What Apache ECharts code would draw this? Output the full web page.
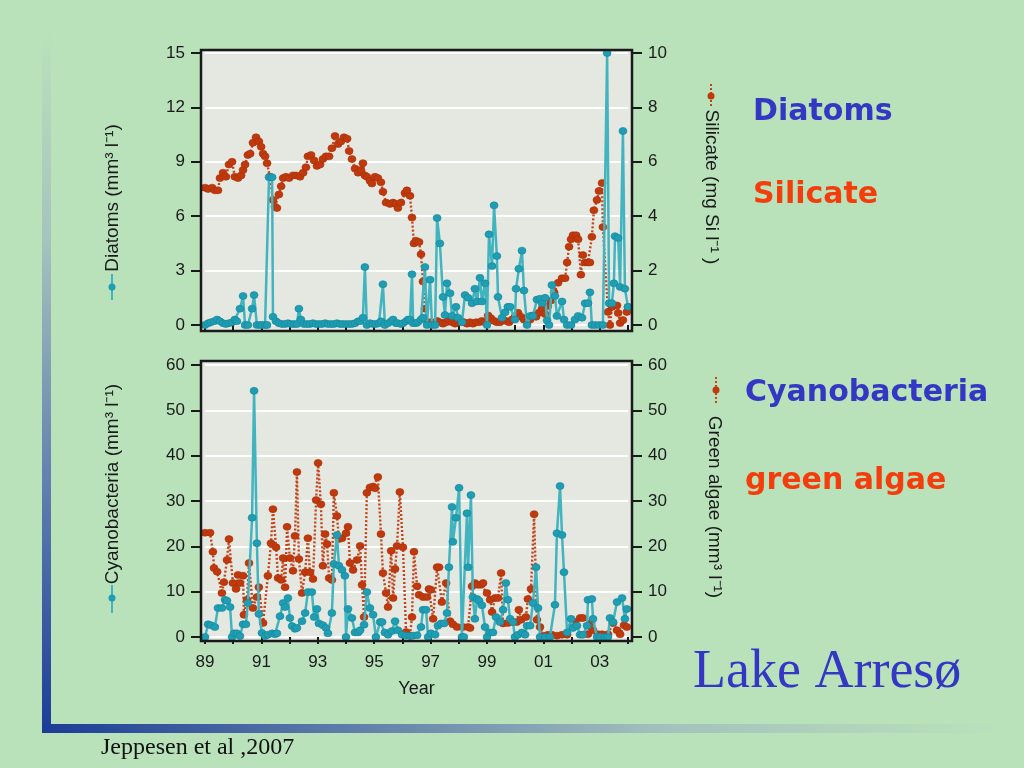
<!DOCTYPE html>
<html><head><meta charset="utf-8">
<script src="https://cdn.jsdelivr.net/npm/echarts@6/dist/echarts.min.js"></script>
<style>html,body{margin:0;padding:0;background:#b9e2bb;}#c{width:1024px;height:768px;}</style>
</head><body><div id="c"></div><script>
// ---- data (decimal year, value) ----
const siYear=[1989.00,1989.11,1989.25,1989.35,1989.46,1989.53,1989.64,1989.74,1989.85,1989.96,1990.06,1990.17,1990.28,1990.35,1990.42,1990.52,1990.60,1990.70,1990.81,1990.91,1990.99,1991.06,1991.13,1991.20,1991.30,1991.41,1991.48,1991.55,1991.62,1991.70,1991.77,1991.87,1991.98,1992.12,1992.23,1992.37,1992.48,1992.58,1992.65,1992.76,1992.87,1992.97,1993.08,1993.18,1993.29,1993.40,1993.50,1993.61,1993.72,1993.82,1993.93,1994.04,1994.11,1994.21,1994.32,1994.43,1994.53,1994.60,1994.67,1994.74,1994.85,1994.92,1995.03,1995.13,1995.24,1995.31,1995.42,1995.56,1995.67,1995.77,1995.84,1995.95,1996.09,1996.16,1996.27,1996.34,1996.41,1996.48,1996.59,1996.66,1996.73,1996.80,1996.91,
1997.01,1997.12,1997.23,1997.33,1997.44,1997.55,1997.65,1997.76,1997.87,1997.97,1998.08,1998.18,1998.29,1998.40,1998.50,1998.61,1998.72,1998.82,1998.93,1999.04,1999.14,1999.25,1999.35,1999.46,1999.57,1999.67,1999.78,1999.89,1999.99,2000.10,2000.21,2000.31,2000.42,2000.53,2000.63,2000.74,2000.84,2000.95,2001.06,2001.16,2001.27,2001.38,2001.52,2001.66,2001.77,2001.84,2001.91,2001.98,2002.05,2002.16,2002.23,2002.33,2002.40,2002.48,2002.58,2002.65,2002.72,2002.79,2002.90,2002.97,2003.08,2003.11,2003.29,2003.36,2003.43,2003.61,2003.65,2003.72,2003.82,2003.96,2004.00];
const siVal=[5.05,5.0,5.05,4.95,4.95,5.4,5.6,5.45,5.9,6.0,5.45,5.4,5.5,5.7,5.9,6.25,6.3,6.7,6.9,6.75,6.55,6.3,6.2,5.95,5.45,4.6,4.35,4.3,4.8,5.1,5.4,5.45,5.4,5.5,5.5,5.45,5.6,5.8,6.2,6.25,6.05,5.85,5.9,6.1,6.2,6.2,6.5,6.95,6.65,6.75,6.9,6.85,6.4,6.1,5.75,5.6,5.7,5.95,5.5,5.45,5.3,5.2,5.45,5.4,5.25,4.9,4.5,4.45,4.5,4.45,4.3,4.5,4.85,4.95,4.75,3.95,3.0,3.1,3.05,2.6,1.6,0.6,0.1,
0.1,0.05,0.15,0.1,0.05,0.1,0.2,0.1,0.05,0.1,0.15,0.1,0.05,0.1,0.05,0.1,0.1,0.15,0.1,0.35,0.25,0.15,0.1,0.1,0.2,0.15,0.1,0.2,0.3,0.45,0.3,0.2,0.1,0.2,0.35,0.3,0.45,0.6,0.4,0.7,0.9,1.2,1.55,1.72,1.72,2.3,2.88,3.15,3.3,3.3,3.15,1.85,2.57,2.3,2.3,2.3,3.24,4.22,4.6,4.93,5.22,3.6,0.48,0.0,0.66,0.72,0.44,0.07,0.18,0.48,0.66];

const diYear=[1989.00,1989.11,1989.21,1989.32,1989.43,1989.53,1989.64,1989.74,1989.85,1989.96,1990.06,1990.13,1990.24,1990.35,1990.42,1990.52,1990.67,1990.74,1990.84,1990.95,1991.02,1991.13,1991.20,1991.27,1991.38,1991.41,1991.52,1991.62,1991.73,1991.84,1991.94,1992.05,1992.16,1992.26,1992.33,1992.40,1992.51,1992.62,1992.72,1992.83,1992.94,1993.04,1993.15,1993.26,1993.36,1993.47,1993.57,1993.68,1993.79,1993.89,1994.00,1994.11,1994.21,1994.32,1994.43,1994.50,1994.60,1994.67,1994.74,1994.85,1994.96,1995.06,1995.17,1995.24,1995.31,1995.38,1995.49,1995.60,1995.67,1995.77,1995.84,1995.95,1996.02,1996.13,1996.20,1996.27,1996.34,1996.38,1996.48,1996.55,1996.66,1996.73,1996.80,1996.87,1996.98,1997.05,1997.16,1997.23,1997.33,1997.44,1997.51,1997.58,1997.69,1997.76,1997.90,1997.97,1998.11,1998.22,1998.33,1998.47,1998.57,1998.65,1998.75,1998.82,1998.93,1999.00,1999.07,1999.18,1999.25,1999.35,1999.39,1999.53,1999.64,1999.74,1999.82,1999.99,2000.03,2000.13,2000.24,2000.31,2000.42,2000.53,2000.63,2000.77,2000.88,2000.95,2001.06,2001.13,2001.20,2001.30,2001.41,2001.48,2001.66,2001.73,2001.84,2001.98,2002.12,2002.23,2002.37,2002.48,2002.58,2002.65,2002.72,2002.83,2002.97,2003.11,2003.26,2003.33,2003.43,2003.50,2003.54,2003.65,2003.72,2003.82,2003.89,2004.00];
const diVal=[0.0,0.1,0.15,0.2,0.3,0.2,0.1,0.05,0.1,0.15,0.3,0.2,0.9,1.6,0.0,0.0,0.9,1.65,0.0,0.0,0.0,0.0,0.0,8.15,8.15,0.45,0.2,0.1,0.05,0.05,0.1,0.05,0.05,0.05,0.9,0.3,0.05,0.05,0.05,0.1,0.05,0.05,0.05,0.1,0.05,0.05,0.05,0.1,0.05,0.05,0.05,0.05,0.05,0.1,0.2,0.2,0.4,3.2,0.0,0.1,0.05,0.05,0.1,0.2,2.25,0.0,0.1,0.2,0.3,0.1,0.1,0.05,0.1,0.2,0.3,0.3,2.8,0.1,0.1,0.15,0.3,0.4,3.2,0.0,2.5,0.0,0.0,5.9,4.5,1.55,0.55,2.3,1.75,0.5,1.0,0.4,0.15,1.65,1.5,1.2,2.0,1.3,2.6,1.3,2.3,0.0,5.0,3.25,6.6,3.8,1.55,0.4,0.7,1.0,1.0,0.3,2.0,3.1,4.1,1.9,0.0,0.5,0.5,1.4,1.45,1.2,1.5,0.25,0.0,2.2,1.6,0.5,1.3,0.3,0.0,0.0,0.3,0.5,0.4,1.2,1.2,1.8,0.0,0.0,0.0,0.0,15.0,1.2,1.2,2.3,4.9,4.8,2.1,10.7,2.0,1.0];

const gaYear=[1989.00,1989.18,1989.28,1989.32,1989.43,1989.60,1989.67,1989.78,1989.85,1989.99,1990.10,1990.17,1990.24,1990.35,1990.38,1990.49,1990.56,1990.70,1990.84,1990.91,1991.06,1991.23,1991.34,1991.41,1991.52,1991.59,1991.70,1991.77,1991.84,1991.91,1992.01,1992.12,1992.19,1992.26,1992.33,1992.44,1992.55,1992.65,1992.72,1992.83,1992.94,1993.01,1993.11,1993.18,1993.26,1993.33,1993.40,1993.50,1993.57,1993.68,1993.75,1993.86,1994.00,1994.07,1994.14,1994.25,1994.39,1994.50,1994.57,1994.64,1994.74,1994.85,1994.96,1995.03,1995.13,1995.24,1995.31,1995.42,1995.49,1995.60,1995.67,1995.74,1995.81,1995.91,1996.02,1996.13,1996.27,1996.34,1996.41,1996.52,1996.59,1996.73,1996.87,1996.94,1997.01,1997.09,1997.23,1997.30,1997.40,1997.55,1997.69,1997.79,1997.94,1998.15,1998.33,1998.40,1998.47,1998.57,1998.68,1998.79,1998.86,1999.00,1999.11,1999.18,1999.28,1999.39,1999.50,1999.57,1999.74,1999.92,2000.06,2000.13,2000.21,2000.38,2000.45,2000.56,2000.67,2000.77,2000.88,2000.99,2001.16,2001.30,2001.48,2001.66,2001.84,2002.01,2002.12,2002.30,2002.40,2002.58,2002.69,2002.76,2002.94,2003.08,2003.29,2003.47,2003.61,2003.72,2003.86,2003.96];
const gaVal=[23.0,23.0,18.8,15.2,14.4,9.7,12.1,17.0,21.6,11.9,10.6,13.7,11.9,13.5,4.9,8.2,16.3,6.4,8.8,11.0,3.1,13.5,20.7,28.2,19.8,13.0,12.6,17.4,11.0,24.3,17.4,14.6,22.3,36.4,17.2,9.7,14.3,21.8,14.3,12.8,30.2,38.4,29.3,15.7,22.7,20.5,13.0,12.6,31.8,26.7,21.6,21.8,22.9,24.3,16.3,14.8,17.0,20.1,11.5,4.4,31.8,33.0,33.2,32.8,35.3,22.7,14.1,9.7,6.6,19.0,8.6,15.0,20.1,32.0,19.8,1.1,0.3,4.4,18.8,11.2,9.3,8.8,8.8,10.6,10.4,4.0,15.4,15.4,7.7,11.9,3.5,2.8,2.2,2.2,2.2,2.0,11.2,11.9,11.5,11.5,11.9,9.7,8.2,5.5,8.6,8.6,14.1,3.0,3.1,3.3,3.3,6.0,3.8,4.4,8.4,10.6,27.1,3.8,2.2,0.3,0.5,0.5,0.3,0.5,0.5,2.2,3.3,4.2,4.2,0.6,3.1,1.5,0.6,0.6,0.6,3.1,1.5,0.6,2.6,2.2];

const cyYear=[1989.00,1989.11,1989.21,1989.35,1989.46,1989.60,1989.71,1989.78,1989.89,1989.96,1990.03,1990.13,1990.24,1990.35,1990.45,1990.52,1990.67,1990.74,1990.84,1990.91,1991.02,1991.13,1991.23,1991.38,1991.48,1991.55,1991.66,1991.77,1991.84,1991.94,1992.01,1992.09,1992.19,1992.26,1992.44,1992.55,1992.65,1992.79,1992.87,1992.97,1993.04,1993.18,1993.29,1993.36,1993.50,1993.57,1993.68,1993.75,1993.86,1993.96,1994.00,1994.07,1994.21,1994.32,1994.43,1994.50,1994.64,1994.74,1994.85,1994.96,1995.06,1995.21,1995.28,1995.38,1995.49,1995.63,1995.74,1995.84,1995.99,1996.13,1996.27,1996.38,1996.52,1996.66,1996.73,1996.84,1996.91,1997.01,1997.16,1997.26,1997.37,1997.48,1997.58,1997.65,1997.76,1997.79,1997.90,1998.01,1998.11,1998.18,1998.29,1998.33,1998.43,1998.50,1998.57,1998.65,1998.72,1998.82,1998.93,1999.00,1999.11,1999.21,1999.32,1999.46,1999.57,1999.67,1999.74,1999.82,1999.92,1999.99,2000.10,2000.24,2000.35,2000.42,2000.53,2000.63,2000.74,2000.81,2000.88,2001.06,2001.23,2001.41,2001.48,2001.59,2001.66,2001.73,2001.84,2001.98,2002.05,2002.19,2002.30,2002.40,2002.55,2002.58,2002.72,2002.76,2002.90,2003.01,2003.18,2003.29,2003.36,2003.47,2003.61,2003.79,2003.89,2003.96];
const cyVal=[0.0,2.8,2.6,2.2,6.4,6.4,8.2,8.0,6.6,0.0,0.8,0.8,0.2,2.8,2.8,7.5,26.3,54.3,20.7,5.1,0.9,0.2,0.5,0.8,0.6,0.8,4.6,7.5,6.6,8.6,4.2,2.4,1.8,2.0,3.5,5.3,9.9,9.9,4.4,6.2,3.0,2.6,2.0,0.8,5.3,16.1,22.5,15.7,14.8,13.5,0.0,6.2,4.2,1.0,1.0,1.5,2.7,9.9,6.4,4.9,0.0,3.3,3.3,1.0,0.5,1.3,3.5,1.5,0.5,0.3,0.2,0.3,0.4,2.2,6.0,6.0,0.0,0.8,0.5,2.5,3.0,3.0,5.3,15.4,28.7,21.0,26.3,32.9,0.0,0.0,27.3,15.4,31.3,8.8,4.0,8.4,8.0,7.0,2.2,0.0,1.0,1.0,4.4,3.3,6.0,11.9,8.2,4.0,3.3,0.0,0.5,1.0,0.5,2.5,2.5,7.5,15.4,6.4,0.0,0.0,0.0,7.1,22.9,33.3,22.5,14.3,1.0,4.0,2.0,2.5,0.5,0.5,2.5,8.2,8.4,4.0,0.0,0.0,0.0,0.0,4.2,3.3,7.7,8.6,4.0,6.2];

// axis ranges / tick steps
const yearRange=[1989,2004];
const diatomAxis=[0,15,3], silicateAxis=[0,10,2], cyanoAxis=[0,60,10], greenAxis=[0,60,10];

const zip=(xs,ys)=>xs.slice(0,Math.min(xs.length,ys.length)).map((x,i)=>[x,ys[i]]);

const BG='#b9e2bb', PLOT='#e5e8e1', INK='#1a1a1a';
const TEAL_LINE='#42b4bf', TEAL_DOT='#1f9db2', RED_LINE='#c4431b', RED_DOT='#c0390d';
const BLUE_TXT='#3436c4', RED_TXT='#f53d0c';
const SANS='"Liberation Sans", Arial, sans-serif';

const chart=echarts.init(document.getElementById('c'),null,{renderer:'canvas'});

function xAx(grid,offset,labels){
  return {type:'value',gridIndex:grid,min:yearRange[0],max:yearRange[1],interval:1,offset:offset,
    axisLine:{show:false},splitLine:{show:false},
    axisTick:{show:true,inside:false,length:7,lineStyle:{color:INK,width:2}},
    axisLabel:{show:labels,margin:13,fontSize:17,color:INK,fontFamily:SANS,
      formatter:v=>(v%2===1)?String(v).slice(2):''},
    name:labels?'Year':'',nameLocation:'middle',nameGap:39,
    nameTextStyle:{fontSize:18,color:INK,fontFamily:SANS}};
}
function yAx(grid,pos,r,split){
  return {type:'value',gridIndex:grid,position:pos,min:r[0],max:r[1],interval:r[2],offset:4,
    axisLine:{show:false},
    axisTick:{show:true,inside:false,length:10,lineStyle:{color:INK,width:2}},
    axisLabel:{margin:16,fontSize:17,color:INK,fontFamily:SANS},
    splitLine:{show:split,lineStyle:{color:'#ffffff',width:2}}};
}
function lineSeries(name,xi,yi,data,dotted){
  return {type:'line',name:name,xAxisIndex:xi,yAxisIndex:yi,data:data,clip:false,
    symbol:'circle',symbolSize:[8,7],showSymbol:true,animation:false,emphasis:{disabled:true},
    z:dotted?2:3,
    lineStyle:dotted?{color:RED_LINE,width:2.4,type:[2,2]}:{color:TEAL_LINE,width:2.5},
    itemStyle:dotted?{color:RED_DOT,borderColor:'#a8300a',borderWidth:0.6}:{color:TEAL_DOT,borderColor:'#14879b',borderWidth:0.6}};
}

const frames=[[201,50,431,281],[201,361,431,280]];
const graphics=[];
frames.forEach(f=>{
  graphics.push({type:'rect',z:-10,silent:true,shape:{x:f[0],y:f[1],width:f[2],height:f[3]},style:{fill:PLOT}});
  graphics.push({type:'rect',z:100,silent:true,shape:{x:f[0],y:f[1],width:f[2],height:f[3]},style:{fill:null,stroke:INK,lineWidth:2.5}});
});
// decorative slide bars
graphics.push({type:'rect',silent:true,z:-20,shape:{x:42,y:30,width:9,height:703},
  style:{fill:new echarts.graphic.LinearGradient(0,0,0,1,[{offset:0,color:BG},{offset:0.3,color:'#a6c3bd'},{offset:0.65,color:'#5f7fae'},{offset:1,color:'#1b3c96'}])}});
graphics.push({type:'rect',silent:true,z:-20,shape:{x:42,y:724,width:960,height:9},
  style:{fill:new echarts.graphic.LinearGradient(0,0,1,0,[{offset:0,color:'#1b3c96'},{offset:0.3,color:'#5a7aa8'},{offset:0.65,color:'#a3c2bd'},{offset:1,color:BG}])}});
// axis titles
function title(txt,x,y,rot){graphics.push({type:'text',x:x,y:y,rotation:rot,silent:true,z:50,
  style:{text:txt,font:'19px '+SANS,fill:INK,align:'center',verticalAlign:'middle'}});}
title('Diatoms (mm³ l⁻¹)',113,198,Math.PI/2);
title('Cyanobacteria (mm³ l⁻¹)',113,484,Math.PI/2);
title('Silicate (mg Si l⁻¹ )',711,187,-Math.PI/2);
title('Green algae (mm³ l⁻¹)',714,507,-Math.PI/2);
// legend keys beside titles
function key(x,y0,y1,cy,teal){
  graphics.push({type:'line',silent:true,z:50,shape:{x1:x,y1:y0,x2:x,y2:y1},
    style:teal?{stroke:TEAL_LINE,lineWidth:2}:{stroke:RED_LINE,lineWidth:2,lineDash:[2,2]}});
  graphics.push({type:'circle',silent:true,z:51,shape:{cx:x,cy:cy,r:3.5},style:{fill:teal?TEAL_DOT:RED_DOT}});
}
key(112,274,300,287,true);
key(112,585,613,598,true);
key(711,84,108,96,false);
key(716,377,403,390,false);
// slide texts
function txt(t,x,y,font,color){graphics.push({type:'text',x:x,y:y,silent:true,z:50,
  style:{text:t,font:font,fill:color,align:'left',verticalAlign:'middle'}});}
const BOLD='bold 30px "DejaVu Sans", Verdana, sans-serif';
txt('Diatoms',753,112,BOLD,BLUE_TXT);
txt('Silicate',753,195,BOLD,RED_TXT);
txt('Cyanobacteria',745,393,BOLD,BLUE_TXT);
txt('green algae',745,481,BOLD,RED_TXT);
txt('Lake Arresø',693,673,'54px "Liberation Serif", "Times New Roman", serif',BLUE_TXT);
txt('Jeppesen et al ,2007',101,748,'24px "Liberation Serif", "Times New Roman", serif','#111111');

chart.setOption({
  backgroundColor:BG,
  animation:false,
  grid:[{left:205,right:396,top:53,height:272},{left:205,right:396,top:365,height:272}],
  xAxis:[xAx(0,6,false),xAx(1,4,true)],
  yAxis:[yAx(0,'left',diatomAxis,true),yAx(0,'right',silicateAxis,false),yAx(1,'left',cyanoAxis,true),yAx(1,'right',greenAxis,false)],
  series:[
    lineSeries('Silicate',0,1,zip(siYear,siVal),true),
    lineSeries('Diatoms',0,0,zip(diYear,diVal),false),
    lineSeries('Green algae',1,3,zip(gaYear,gaVal),true),
    lineSeries('Cyanobacteria',1,2,zip(cyYear,cyVal),false)
  ],
  graphic:graphics
});
</script></body></html>
